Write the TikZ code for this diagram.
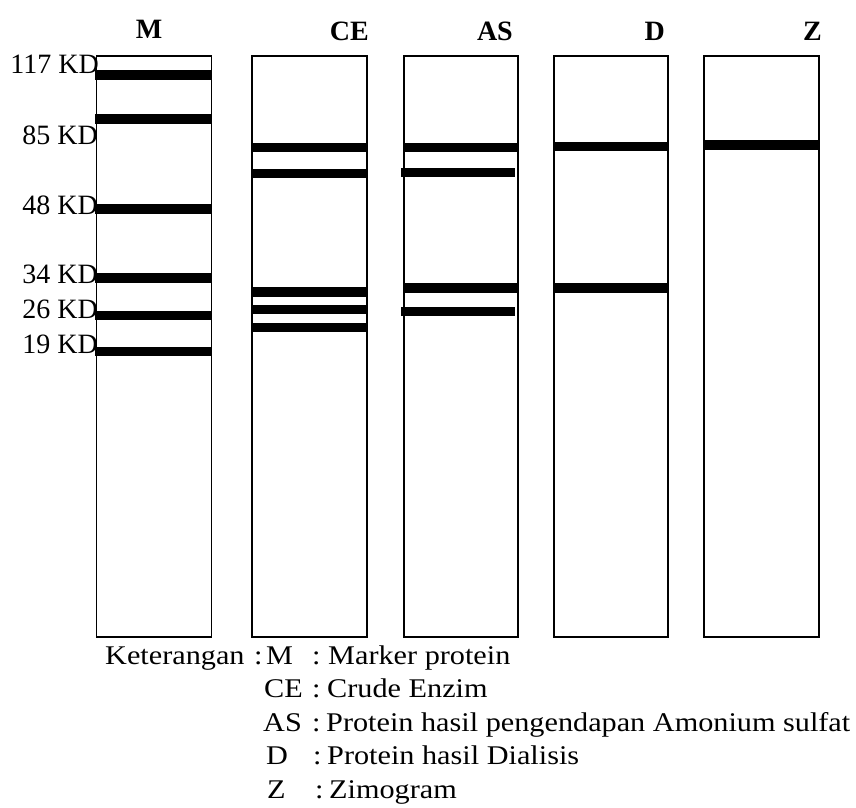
\documentclass[tikz,border=0pt]{standalone}
\usepackage{fontspec}
\setmainfont{Liberation Serif}
\newfontfamily\legfont[FakeStretch=1.12]{Liberation Serif}
\begin{document}
\begin{tikzpicture}[x=1pt,y=-1pt,
  lane/.style={draw, line width=1.7pt, inner sep=0pt, outer sep=0pt, fill=white},
  lbl/.style={inner sep=0pt, font=\fontsize{28}{30}\selectfont, anchor=base east},
  hdr/.style={inner sep=0pt, font=\fontsize{28}{30}\selectfont\bfseries},
  leg/.style={inner sep=0pt, font=\fontsize{27}{30}\selectfont\legfont, anchor=base west}]
\useasboundingbox (0,0) rectangle (856,807);
\newcommand{\band}[3]{\fill (#1,#3-4.8) rectangle (#2,#3+4.8);}
% lanes
\node[lane, minimum width=115pt, minimum height=581pt] (laneM)  at (154,346.5) {};
\node[lane, minimum width=115pt, minimum height=581pt] (laneCE) at (309.5,346.5) {};
\node[lane, minimum width=114pt, minimum height=581pt] (laneAS) at (461,346.5) {};
\node[lane, minimum width=114pt, minimum height=581pt] (laneD)  at (611,346.5) {};
\node[lane, minimum width=115pt, minimum height=581pt] (laneZ)  at (761.5,346.5) {};
% bands M
\band{95}{212}{75}
\band{95}{212}{119}
\band{95}{212}{209}
\band{95}{212}{278}
\band{95}{212}{315.5}
\band{95}{212}{351.5}
% bands CE
\band{251}{367.5}{147.5}
\band{251}{367.5}{173.5}
\band{251}{367.5}{292}
\band{251}{367.5}{309.5}
\band{251}{367.5}{327.5}
% bands AS
\band{403}{518.5}{147.5}
\band{400.5}{515}{172.5}
\band{403}{518.5}{288}
\band{400.5}{515}{311.5}
% bands D
\band{553}{668.5}{146.5}
\band{553}{668.5}{288}
% band Z
\band{703}{819.5}{145}
% marker labels
\node[lbl] (k117) at (99,73) {117 KD};
\node[lbl] (k85)  at (98,144) {85 KD};
\node[lbl] (k48)  at (98,214) {48 KD};
\node[lbl] (k34)  at (98,283) {34 KD};
\node[lbl] (k26)  at (98,318) {26 KD};
\node[lbl] (k19)  at (98,353) {19 KD};
% headers
\node[hdr, anchor=base] (hM) at (149,38) {M};
\node[hdr, anchor=base east] (hCE) at (369,40) {CE};
\node[hdr, anchor=base east] (hAS) at (513,40) {AS};
\node[hdr, anchor=base east] (hD) at (665,40) {D};
\node[hdr, anchor=base east] (hZ) at (822,40) {Z};
% legend
\node[leg] (ket) at (105,664) {Keterangan};
\node[leg] (ketc) at (254,664) {:};
\node[leg] (kM) at (266,664) {M};
\node[leg] (cM) at (312,664) {:};
\node[leg] (dM) at (328,664) {Marker protein};
\node[leg] (kCE) at (264,697.5) {CE};
\node[leg] (cCE) at (312,697.5) {:};
\node[leg] (dCE) at (327,697.5) {Crude Enzim};
\node[leg] (kAS) at (263,731) {AS};
\node[leg] (cAS) at (312,731) {:};
\node[leg] (dAS) at (326,731) {Protein hasil pengendapan Amonium sulfat};
\node[leg] (kD) at (266,764.5) {D};
\node[leg] (cD) at (313,764.5) {:};
\node[leg] (dD) at (327,764.5) {Protein hasil Dialisis};
\node[leg] (kZ) at (267,798) {Z};
\node[leg] (cZ) at (315,798) {:};
\node[leg] (dZ) at (329,798) {Zimogram};
\end{tikzpicture}
\end{document}
